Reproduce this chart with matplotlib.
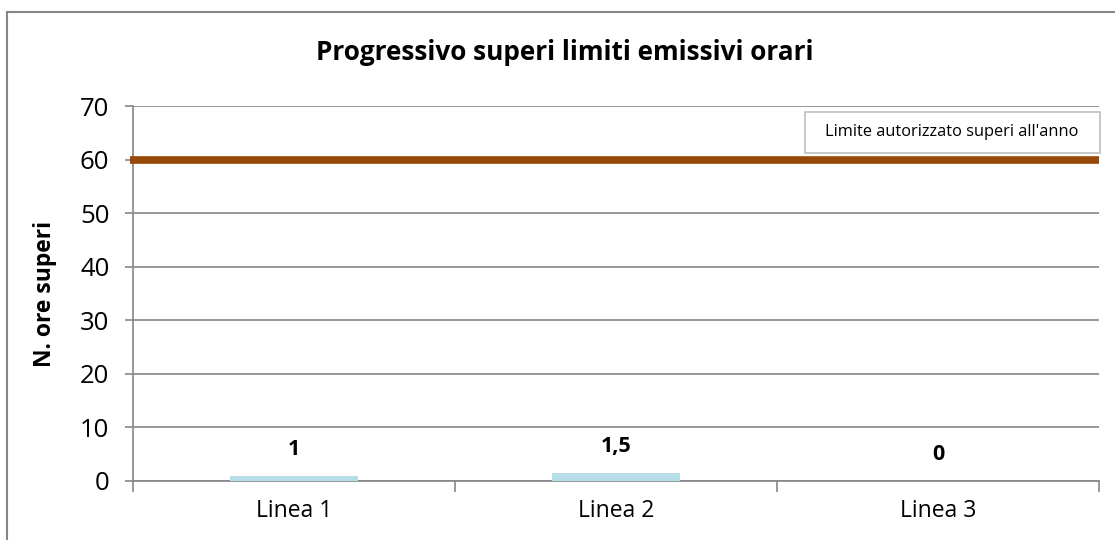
import matplotlib.pyplot as plt
from matplotlib.lines import Line2D
from matplotlib.patches import Rectangle

plt.rcParams['font.family'] = ['Open Sans', 'DejaVu Sans']

# dati
categorie = ['Linea 1', 'Linea 2', 'Linea 3']
superi = [1, 1.5, 0]
etichette = ['1', '1,5', '0']
limite = 60
titolo = 'Progressivo superi limiti emissivi orari'
legenda = "Limite autorizzato superi all'anno"

W, H = 1115, 540
fig = plt.figure(figsize=(W / 100, H / 100), dpi=100)
ax = fig.add_axes([133 / W, 1 - 481 / H, 966 / W, 375 / H])

x = list(range(len(categorie)))
ax.bar(x, superi, width=0.4, color='#B7DDE8', zorder=3)
for xi, v, lab in zip(x, superi, etichette):
    ax.annotate(lab, (xi, v), xytext=(0, 19), textcoords='offset points',
                ha='center', va='center', fontsize=15.5, fontweight='bold')

# linea limite
ax.plot([-0.51, 2.5], [limite, limite], color='#984807', lw=5.5,
        solid_capstyle='butt', zorder=4, clip_on=False)

ax.set_xlim(-0.5, 2.5)
ax.set_ylim(0, 70)
ax.set_yticks(range(0, 71, 10))
ax.yaxis.grid(True, color='#868686', lw=1.2)
ax.set_axisbelow(True)

ax.set_xticks(x)
ax.set_xticklabels(categorie, fontsize=16.5)
ax.tick_params(axis='x', length=0, pad=13)
ax.set_xticks([-0.5, 0.5, 1.5, 2.5], minor=True)
ax.tick_params(axis='x', which='minor', length=8, color='#868686', width=1.2)
ax.tick_params(axis='y', length=6, color='#868686', width=1.2, labelsize=18.5, pad=11)

for s in ['top', 'right']:
    ax.spines[s].set_visible(False)
for s in ['left', 'bottom']:
    ax.spines[s].set_color('#868686')
    ax.spines[s].set_linewidth(1.2)

ax.set_ylabel('N. ore superi', fontsize=16.5, fontweight='bold')
ax.yaxis.set_label_coords((57 - 133) / 966, 0.5)
fig.text(565 / W, 1 - 52 / H, titolo, ha='center', va='center',
         fontsize=18.8, fontweight='bold')

# riquadro legenda
fig.add_artist(Rectangle((805 / W, 1 - 153 / H), 295 / W, 41 / H, fc='white',
                         ec='#BFBFBF', lw=1.2, transform=fig.transFigure, zorder=5))
fig.text(952 / W, 1 - 132 / H, legenda, ha='center', va='center', fontsize=11.8,
         zorder=6)

# bordo esterno
fig.add_artist(Line2D([7 / W, 1], [1 - 12 / H, 1 - 12 / H],
                      color='#868686', lw=1.5, transform=fig.transFigure))
fig.add_artist(Line2D([7 / W, 7 / W], [0, 1 - 12 / H],
                      color='#868686', lw=1.5, transform=fig.transFigure))

fig.savefig('out.png', dpi=100)
